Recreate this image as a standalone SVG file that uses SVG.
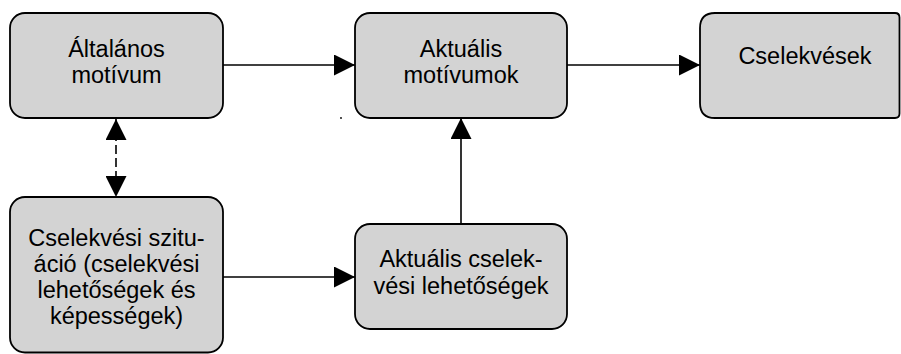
<svg xmlns="http://www.w3.org/2000/svg" width="901" height="354" viewBox="0 0 901 354">
<defs>
<style>
.box{fill:#d3d3d3;stroke:#000;stroke-width:1.8}
.lbl{font-family:"Liberation Sans",Arial,sans-serif;font-size:23.5px;fill:#000;text-anchor:middle}
.conn{stroke:#000;stroke-width:1.6;fill:none}
.dash{stroke-dasharray:9,4}
</style>
<marker id="ah" markerUnits="userSpaceOnUse" markerWidth="21" markerHeight="21" viewBox="0 0 20 20" refX="20" refY="10" orient="auto-start-reverse">
<path d="M0,0 L20,10 L0,20 z" fill="#000"/>
</marker>
</defs>
<rect width="901" height="354" fill="#fff"/>
<g id="connectors">
<line class="conn" x1="223" y1="65" x2="355" y2="65" marker-end="url(#ah)"/>
<line class="conn" x1="567" y1="65" x2="700" y2="65" marker-end="url(#ah)"/>
<line class="conn" x1="223" y1="277" x2="355" y2="277" marker-end="url(#ah)"/>
<line class="conn" x1="461" y1="224" x2="461" y2="118" marker-end="url(#ah)"/>
<line class="conn dash" x1="116" y1="119" x2="116" y2="197" marker-start="url(#ah)" marker-end="url(#ah)"/>
</g>
<g id="node-altalanos">
<rect class="box" x="10" y="13" width="213" height="105" rx="15"/>
<text class="lbl" x="116.5" y="57">Általános</text>
<text class="lbl" x="116.5" y="83">motívum</text>
</g>
<g id="node-aktualis-motivumok">
<rect class="box" x="355" y="13" width="212" height="105" rx="15"/>
<text class="lbl" x="461" y="57">Aktuális</text>
<text class="lbl" x="461" y="83">motívumok</text>
</g>
<g id="node-cselekvesek">
<path class="box" d="M715,13 H895 Q899.5,13 899.5,17.5 V113.5 Q899.5,118 895,118 H715 Q700,118 700,103 V28 Q700,13 715,13 z"/>
<text class="lbl" x="805" y="63.5">Cselekvések</text>
</g>
<g id="node-szituacio">
<rect class="box" x="10" y="197" width="213" height="155.5" rx="15"/>
<text class="lbl" x="116.5" y="245.5">Cselekvési szitu-</text>
<text class="lbl" x="116.5" y="272">áció (cselekvési</text>
<text class="lbl" x="116.5" y="298">lehetőségek és</text>
<text class="lbl" x="116.5" y="324">képességek)</text>
</g>
<g id="node-aktualis-lehetosegek">
<rect class="box" x="355" y="224" width="212" height="105" rx="15"/>
<text class="lbl" x="461" y="267">Aktuális cselek-</text>
<text class="lbl" x="461" y="293.5">vési lehetőségek</text>
</g>
<circle cx="341" cy="118" r="0.9" fill="#000"/>
</svg>
